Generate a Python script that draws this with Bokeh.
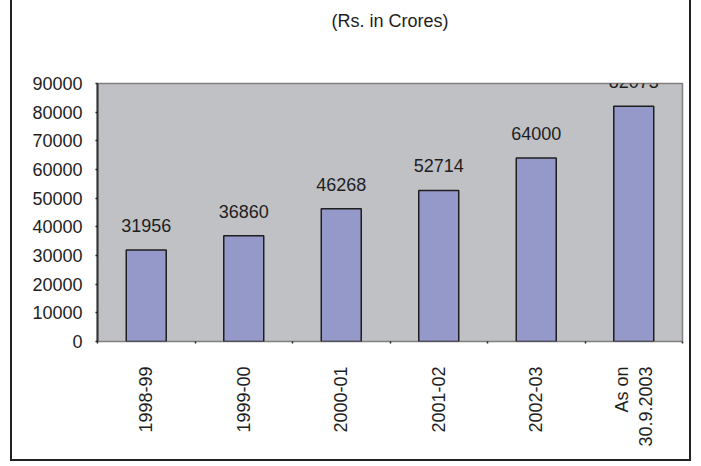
import math
from bokeh.plotting import figure
from bokeh.models import (FactorRange, Range1d, LinearAxis, CategoricalAxis,
                          FixedTicker, Title, ColumnDataSource, Label)
from bokeh.embed import file_html
from bokeh.resources import INLINE

categories = ["1998-99", "1999-00", "2000-01", "2001-02", "2002-03", "As on\n30.9.2003"]
values = [31956, 36860, 46268, 52714, 64000, 82073]
value_labels = ["31956", "36860", "46268", "52714", "64000", "82073"]
y_ticks = [0, 10000, 20000, 30000, 40000, 50000, 60000, 70000, 80000, 90000]
title_text = "(Rs. in Crores)"

FONT = "Liberation Sans"
TXT = "#1e1e1e"

p = figure(width=681, height=461, output_backend="svg", toolbar_location=None,
           x_range=FactorRange(*categories, range_padding=0),
           y_range=Range1d(y_ticks[0], y_ticks[-1]),
           x_axis_location=None, y_axis_location=None,
           min_border_left=85, min_border_right=11, min_border_top=83,
           min_border_bottom=120)
p.styles = {"margin-left": "10px", "border-left": "2px solid #222",
            "border-right": "2px solid #222", "border-bottom": "2px solid #222"}

p.background_fill_color = "#c0c1c5"
p.border_fill_color = "white"
p.outline_line_color = "#808080"
p.outline_line_width = 1.5
p.xgrid.visible = False
p.ygrid.visible = False

src = ColumnDataSource(dict(x=categories, top=values, lab=value_labels))
p.vbar(x="x", top="top", width=0.41, source=src, fill_color="#9499c9",
       line_color="#1e1e1e", line_width=1.5)
# value labels as annotations, placed at the factor-range
# synthetic coordinate of each category
for i, (val, lab) in enumerate(zip(values, value_labels)):
    p.add_layout(Label(x=i + 0.5, y=val, text=lab, text_align="center",
                       text_baseline="bottom", y_offset=18, text_font=FONT,
                       text_font_size="18px", text_color=TXT, level="overlay"))

# tick dots at category boundaries (synthetic coordinates of the factor range)
edge_axis = LinearAxis(ticker=FixedTicker(ticks=list(range(len(categories) + 1))),
                       axis_line_color=None, major_tick_in=0, major_tick_out=7,
                       major_tick_line_dash="0 5 2", major_tick_line_color="#222",
                       major_tick_line_width=1.5, minor_tick_line_color=None,
                       major_label_text_font_size="1px", major_label_text_alpha=0,
                       major_label_standoff=0)
p.add_layout(edge_axis, "below")

cat_axis = CategoricalAxis(axis_line_color=None, major_tick_line_color=None,
                           major_tick_in=0, major_tick_out=0,
                           major_label_orientation=math.pi / 2,
                           major_label_standoff=18,
                           major_label_text_font=FONT,
                           major_label_text_font_size="18px",
                           major_label_text_color=TXT)
p.add_layout(cat_axis, "below")

y_axis = LinearAxis(ticker=FixedTicker(ticks=y_ticks),
                    axis_line_color="#333", axis_line_width=2,
                    major_tick_in=0, major_tick_out=6,
                    major_tick_line_dash="0 4 2", major_tick_line_color="#222",
                    major_tick_line_width=1.5, minor_tick_line_color=None,
                    major_label_standoff=9,
                    major_label_text_font=FONT,
                    major_label_text_font_size="18px",
                    major_label_text_color=TXT)
p.add_layout(y_axis, "left")

spacer = Title(text=" ", text_font_size="32px")
p.add_layout(spacer, "above")
t = Title(text=title_text, align="center", text_font=FONT,
          text_font_size="18px", text_font_style="normal", text_color=TXT)
p.add_layout(t, "above")

open("out.html", "w").write(file_html(p, INLINE))
